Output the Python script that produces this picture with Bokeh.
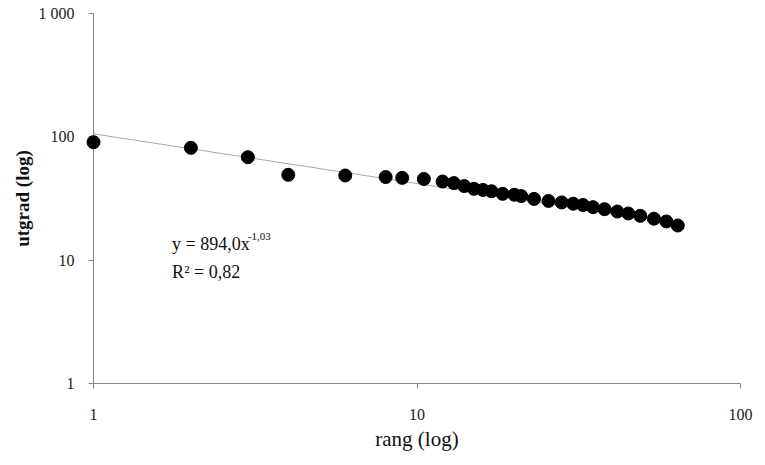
from bokeh.plotting import figure
from bokeh.models import Range1d, FixedTicker, Label
from bokeh.embed import file_html
from bokeh.resources import INLINE

# data
rang = [1, 2, 3, 4, 6, 8, 9, 10.5, 12, 13, 14, 15, 16, 17, 18.4, 20, 21, 23,
        25.5, 28, 30.4, 32.6, 35, 38, 41.6, 45, 49, 54, 59, 64]
utgrad = [90.5, 81.5, 68.4, 49.2, 48.6, 47.2, 46.5, 45.5, 43.4, 42.2, 39.9, 37.9,
          37.1, 36.2, 34.5, 33.9, 33.1, 31.4, 30.2, 29.4, 28.7, 28.0, 26.9, 25.9,
          24.8, 23.9, 22.9, 21.7, 20.6, 19.1]
trend_x = [1, 64]
trend_y = [105.8, 19.8]
x_ticks = [1, 10, 100]
x_tick_labels = ["1", "10", "100"]
y_ticks = [1, 10, 100, 1000]
y_tick_labels = ["1", "10", "100", "1 000"]
eq_main = "y = 894,0x"
eq_exp = "-1,03"
r2_text = "R² = 0,82"

FONT = "Liberation Serif"
AXC = "#868686"

p = figure(width=757, height=457, x_axis_type="log", y_axis_type="log",
           x_range=Range1d(1, 100), y_range=Range1d(1, 1000),
           output_backend="svg", toolbar_location=None,
           min_border_left=93, min_border_right=17, min_border_top=13,
           min_border_bottom=74)
p.outline_line_color = None
p.xgrid.visible = False
p.ygrid.visible = False
p.background_fill_color = "white"
p.border_fill_color = "white"

p.line(trend_x, trend_y, line_color="#A6A6A6", line_width=1)
pts = p.scatter(rang, utgrad, size=13, fill_color="black", line_color="black")
pts.level = "overlay"

for ax, ticks, labels in ((p.xaxis[0], x_ticks, x_tick_labels),
                          (p.yaxis[0], y_ticks, y_tick_labels)):
    ax.ticker = FixedTicker(ticks=ticks, minor_ticks=[])
    ax.major_label_overrides = {t: l for t, l in zip(ticks, labels)}
    ax.axis_line_color = AXC
    ax.major_tick_line_color = AXC
    ax.major_tick_out = 5
    ax.major_tick_in = 0
    ax.minor_tick_out = 0
    ax.minor_tick_in = 0
    ax.major_label_text_font = FONT
    ax.major_label_text_font_size = "16px"
    ax.major_label_text_color = "#222222"
    ax.axis_label_text_font = FONT
    ax.axis_label_text_color = "#111111"

p.xaxis.axis_label = "rang (log)"
p.xaxis.axis_label_text_font_size = "21px"
p.xaxis.axis_label_text_font_style = "normal"
p.xaxis.major_label_standoff = 20
p.xaxis.axis_label_standoff = 4

p.yaxis.axis_label = "utgrad (log)"
p.yaxis.axis_label_text_font_size = "19px"
p.yaxis.axis_label_text_font_style = "bold"
p.yaxis.major_label_standoff = 14
p.yaxis.axis_label_standoff = 3

p.add_layout(Label(x=1.75, y=13.5, text=eq_main, text_font=FONT,
                   text_font_size="18px", text_baseline="middle",
                   text_color="#111111"))
p.add_layout(Label(x=3.0, y=15.6, text=eq_exp, text_font=FONT,
                   text_font_size="11px", text_baseline="middle",
                   text_color="#111111"))
p.add_layout(Label(x=1.75, y=8.0, text=r2_text, text_font=FONT,
                   text_font_size="18px", text_baseline="middle",
                   text_color="#111111"))

open("out.html", "w").write(file_html(p, INLINE))
